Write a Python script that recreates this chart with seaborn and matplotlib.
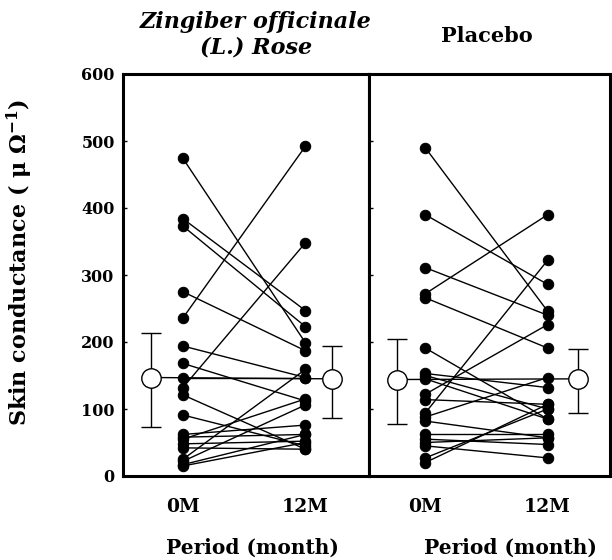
import numpy as np
import pandas as pd
import matplotlib
matplotlib.use("Agg")
import matplotlib.pyplot as plt
import seaborn as sns

# ---- data ----
periods = ["0M", "12M"]
ginger_0m = [474, 384, 373, 275, 236, 194, 168, 147, 132, 121, 91, 62, 58, 55, 48, 42, 25, 22, 17, 15]
ginger_12m = [199, 247, 223, 187, 492, 147, 112, 147, 348, 40, 45, 76, 62, 115, 52, 40, 159, 106, 62, 50]
placebo_0m = [490, 390, 311, 272, 266, 191, 153, 150, 122, 114, 94, 88, 82, 62, 55, 50, 45, 27, 20, 145]
placebo_12m = [246, 286, 240, 390, 191, 85, 132, 100, 226, 107, 322, 147, 57, 62, 47, 57, 27, 100, 107, 85]

ginger_mean = [147, 145]
ginger_lo = [73, 86]
ginger_hi = [213, 194]
placebo_mean = [144, 145]
placebo_lo = [78, 94]
placebo_hi = [205, 189]

titles = ["Zingiber officinale\n(L.) Rose", "Placebo"]
ylabel = r"Skin conductance ( $\mu$ $\Omega^{\mathbf{-1}}$)"
xlabel = "Period (month)"
yticks = [0, 100, 200, 300, 400, 500, 600]


def long_df(v0, v1):
    n = len(v0)
    return pd.DataFrame({
        "subject": list(range(n)) * 2,
        "pos": [0] * n + [1] * n,
        "value": list(v0) + list(v1),
    })


sns.set_style("ticks")
plt.rcParams["font.family"] = ["DejaVu Serif"]
plt.rcParams["font.weight"] = "bold"
plt.rcParams["mathtext.fontset"] = "dejavuserif"
plt.rcParams["mathtext.default"] = "bf"
plt.rcParams["text.color"] = "black"
plt.rcParams["axes.edgecolor"] = "black"
plt.rcParams["xtick.color"] = "black"
plt.rcParams["ytick.color"] = "black"
plt.rcParams["xtick.labelcolor"] = "black"
plt.rcParams["ytick.labelcolor"] = "black"

fig = plt.figure(figsize=(6.12, 5.6), dpi=100)
ax1 = fig.add_axes([123 / 612, 1 - 476 / 560, 246 / 612, 402 / 560])
ax2 = fig.add_axes([369 / 612, 1 - 476 / 560, 241 / 612, 402 / 560])

panels = [
    (ax1, ginger_0m, ginger_12m, ginger_mean, ginger_lo, ginger_hi, (-0.49, 1.52), (-0.26, 1.22)),
    (ax2, placebo_0m, placebo_12m, placebo_mean, placebo_lo, placebo_hi, (-0.46, 1.51), (-0.23, 1.25)),
]

for ax, v0, v1, m, lo, hi, xl, mpos in panels:
    df = long_df(v0, v1)
    sns.lineplot(data=df, x="pos", y="value", units="subject", estimator=None,
                 color="black", lw=1.0, marker="o", markersize=7.5,
                 markeredgecolor="black", ax=ax, legend=False, sort=False)
    # mean line and mean +/- SD markers
    ax.plot(mpos, m, color="black", lw=1.0, zorder=2)
    yerr = [np.array(m) - np.array(lo), np.array(hi) - np.array(m)]
    ax.errorbar(mpos, m, yerr=yerr, fmt="o", ms=14, mfc="white", mec="black",
                mew=1.0, ecolor="black", elinewidth=1.0, capsize=7, capthick=1.0, zorder=5)
    ax.set_xlim(*xl)
    ax.set_ylim(0, 600)
    ax.set_yticks(yticks)
    ax.set_xticks([0, 1])
    ax.set_xticklabels(periods, fontsize=13.5, fontweight="bold")
    ax.tick_params(axis="x", length=0, pad=16)
    ax.tick_params(axis="y", direction="in", length=3, width=1)
    ax.set_xlabel("")
    ax.set_ylabel("")
    for s in ax.spines.values():
        s.set_visible(True)
        s.set_linewidth(2.2)
        s.set_color("black")
    ax.set_facecolor("white")

ax1.set_yticklabels([str(t) for t in yticks], fontsize=11.5, fontweight="bold")
ax1.tick_params(axis="y", pad=6)
ax2.set_yticklabels([])

fig.text(256 / 612, 1 - 35 / 560, titles[0], ha="center", va="center",
         fontsize=16, fontweight="bold", style="italic", linespacing=1.2)
fig.text(487 / 612, 1 - 36 / 560, titles[1], ha="center", va="center",
         fontsize=15, fontweight="bold")
fig.text(252 / 612, 1 - 548 / 560, xlabel, ha="center", va="center",
         fontsize=14.5, fontweight="bold")
fig.text(510 / 612, 1 - 548 / 560, xlabel, ha="center", va="center",
         fontsize=14.5, fontweight="bold")
fig.text(20 / 612, 1 - 262 / 560, ylabel, ha="center", va="center", rotation=90,
         fontsize=16, fontweight="bold")

fig.savefig("out.png", dpi=100, facecolor="white")
